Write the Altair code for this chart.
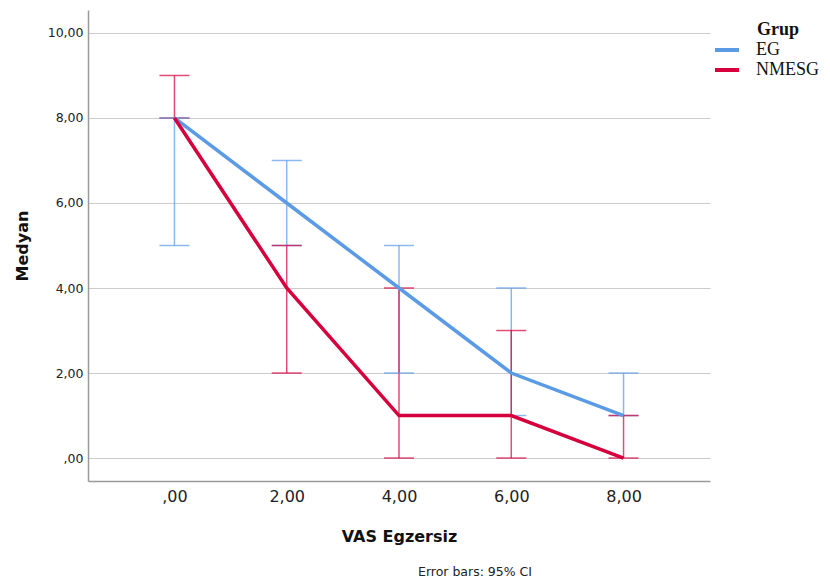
import altair as alt
import pandas as pd

x_vals = [0, 2, 4, 6, 8]
groups = ["EG", "NMESG"]
eg_median = [8, 6, 4, 2, 1]
eg_low = [5, 5, 2, 1, 1]
eg_high = [8, 7, 5, 4, 2]
nm_median = [8, 4, 1, 1, 0]
nm_low = [8, 2, 0, 0, 0]
nm_high = [9, 5, 4, 3, 1]
y_ticks = [0, 2, 4, 6, 8, 10]

rows = []
for g, med, lo, hi in [("EG", eg_median, eg_low, eg_high), ("NMESG", nm_median, nm_low, nm_high)]:
    for x, m, l, h in zip(x_vals, med, lo, hi):
        rows.append({"vas": x, "grup": g, "median": m, "low": l, "high": h})
df = pd.DataFrame(rows)

colors = ["#5b9be6", "#d6003c"]
color_scale = alt.Scale(domain=groups, range=colors)
label_expr = "datum.value == 0 ? ',00' : replace(format(datum.value, '.2f'), '.', ',')"

xs = alt.Scale(domain=[-1.54, 9.54], nice=False, zero=False)
ys = alt.Scale(domain=[-0.54, 10.54], nice=False, zero=False)

legend = alt.Legend(title=None, orient="none", legendX=625, legendY=30,
                    symbolType="stroke", symbolStrokeWidth=4, symbolOpacity=1,
                    symbolSize=576, labelFont="Liberation Serif",
                    labelFontSize=18, labelColor="#111", clipHeight=20,
                    labelOffset=15, rowPadding=0)
color_enc = alt.Color("grup:N", scale=color_scale, legend=legend)

base = alt.Chart(df)

x_enc = alt.X("vas:Q", scale=xs, title="VAS Egzersiz",
              axis=alt.Axis(values=x_vals, labelExpr=label_expr, grid=False, ticks=False,
                            labelFontSize=16, labelPadding=7, titleFontSize=16,
                            titleFontWeight="bold", titlePadding=24, labelColor="#222",
                            titleColor="#111", domainColor="#9a9a9a", domainWidth=1.5,
                            labelFont="DejaVu Sans", titleFont="DejaVu Sans"))
y_enc = alt.Y("median:Q", scale=ys, title="Medyan",
              axis=alt.Axis(values=y_ticks, labelExpr=label_expr, grid=True, ticks=False,
                            gridColor="#cccccc", gridWidth=1.2, labelFontSize=12.5,
                            labelPadding=5, titleFontSize=16, titleFontWeight="bold",
                            titlePadding=17, labelColor="#222", titleColor="#111",
                            domainColor="#9a9a9a", domainWidth=1.5,
                            labelFont="DejaVu Sans", titleFont="DejaVu Sans"))

rules = base.mark_rule(strokeWidth=1.5, opacity=0.7).encode(
    x=x_enc, y=alt.Y("low:Q", scale=ys), y2="high:Q", color=color_enc)
cap_low = base.mark_tick(orient="horizontal", size=30, thickness=1.5, opacity=0.7).encode(
    x="vas:Q", y=alt.Y("low:Q", scale=ys), color=color_enc)
cap_high = base.mark_tick(orient="horizontal", size=30, thickness=1.5, opacity=0.7).encode(
    x="vas:Q", y=alt.Y("high:Q", scale=ys), color=color_enc)

lines = base.mark_line(strokeWidth=3.5).encode(x=x_enc, y=y_enc, color=color_enc)

grup_title = alt.Chart(pd.DataFrame({"t": ["Grup"]})).mark_text(
    font="Liberation Serif", fontSize=18, fontWeight="bold", align="left",
    baseline="middle", color="#111").encode(
    text="t:N", x=alt.value(669), y=alt.value(20))

footnote = alt.Chart(pd.DataFrame({"t": ["Error bars: 95% CI"]})).mark_text(
    font="DejaVu Sans", fontSize=12.5, align="center", baseline="middle",
    color="#222").encode(text="t:N", x=alt.value(387), y=alt.value(562))

chart = alt.layer(rules, cap_low, cap_high, lines, grup_title, footnote).properties(
    width=622, height=471,
    background="white",
    autosize=alt.AutoSizeParams(type="none"),
    padding={"left": 80, "top": 2, "right": 112, "bottom": 98},
).configure_view(stroke=None)

chart.save("out.html", embed_options={"renderer": "svg", "actions": False})
